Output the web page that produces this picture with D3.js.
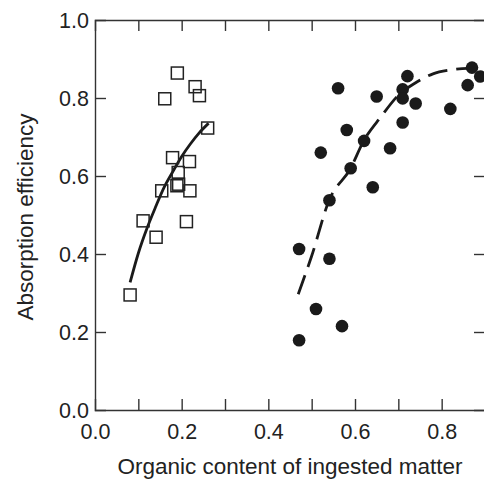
<!DOCTYPE html>
<html>
<head>
<meta charset="utf-8">
<script src="https://cdn.jsdelivr.net/npm/d3@7"></script>
<style>
  html, body { margin: 0; padding: 0; background: #fff; }
  svg { display: block; }
  text { font-family: "Liberation Sans", Arial, Helvetica, sans-serif; fill: #222; }
</style>
</head>
<body>
<svg id="chart" width="484" height="481"></svg>
<script>
// Open squares
const squareX = [0.190, 0.231, 0.161, 0.241, 0.260, 0.179, 0.218, 0.192, 0.189, 0.193, 0.154, 0.219, 0.111, 0.211, 0.141, 0.081];
const squareY = [0.864, 0.829, 0.798, 0.806, 0.723, 0.647, 0.637, 0.609, 0.575, 0.579, 0.562, 0.562, 0.485, 0.483, 0.443, 0.295];
// Filled circles
const circleX = [0.721, 0.870, 0.889, 0.860, 0.561, 0.710, 0.650, 0.710, 0.740, 0.820, 0.710, 0.581, 0.621, 0.521, 0.681, 0.590, 0.641, 0.541, 0.471, 0.541, 0.510, 0.570, 0.471];
const circleY = [0.856, 0.878, 0.855, 0.833, 0.825, 0.822, 0.804, 0.799, 0.786, 0.772, 0.737, 0.718, 0.690, 0.660, 0.671, 0.620, 0.571, 0.538, 0.413, 0.388, 0.259, 0.215, 0.179];
// Solid fitted curve (squares)
const solidCurveX = [0.081, 0.10, 0.12, 0.14, 0.16, 0.18, 0.20, 0.22, 0.24, 0.262];
const solidCurveY = [0.327, 0.402, 0.466, 0.521, 0.572, 0.612, 0.650, 0.682, 0.710, 0.735];
// Dashed fitted curve (circles)
const dashCurveX = [0.469, 0.50, 0.54, 0.59, 0.62, 0.66, 0.70, 0.74, 0.78, 0.82, 0.86, 0.90];
const dashCurveY = [0.297, 0.395, 0.537, 0.620, 0.690, 0.752, 0.807, 0.839, 0.862, 0.872, 0.876, 0.875];
// Ticks
const xTickValues = [0.0, 0.1, 0.2, 0.3, 0.4, 0.5, 0.6, 0.7, 0.8, 0.9];
const xTickLabels = ["0.0", "0.2", "0.4", "0.6", "0.8"];
const yTickValues = [0.0, 0.2, 0.4, 0.6, 0.8, 1.0];
const yTickLabels = ["0.0", "0.2", "0.4", "0.6", "0.8", "1.0"];
const xTitle = "Organic content of ingested matter";
const yTitle = "Absorption efficiency";

(function () {
const svg = d3.select("#chart");
const mLeft = 95, mRight = 485, mTop = 20, mBottom = 410;
const x = d3.scaleLinear().domain([0, 0.9]).range([mLeft, mRight]);
const y = d3.scaleLinear().domain([0, 1]).range([mBottom, mTop]);
const axisColor = "#333";
const tickLen = 11;

const labelSet = new Set(xTickLabels);
const fmt = d3.format(".1f");

const gB = svg.append("g").attr("transform", `translate(0,${mBottom})`)
  .call(d3.axisBottom(x).tickValues(xTickValues).tickSize(-tickLen).tickPadding(14)
    .tickFormat(d => labelSet.has(fmt(d)) ? fmt(d) : ""));
const gT = svg.append("g").attr("transform", `translate(0,${mTop})`)
  .call(d3.axisTop(x).tickValues(xTickValues).tickSize(-tickLen).tickFormat(""));
const gL = svg.append("g").attr("transform", `translate(${mLeft},0)`)
  .call(d3.axisLeft(y).tickValues(yTickValues).tickSize(-tickLen).tickPadding(6)
    .tickFormat((d, i) => yTickLabels[i]));
const gR = svg.append("g").attr("transform", `translate(${mRight},0)`)
  .call(d3.axisRight(y).tickValues(yTickValues).tickSize(-tickLen).tickFormat(""));

[gB, gT, gL, gR].forEach(g => {
  g.select(".domain").attr("stroke", axisColor).attr("stroke-width", 1.4);
  g.selectAll(".tick line").attr("stroke", axisColor).attr("stroke-width", 1.4);
  g.selectAll(".tick text").attr("fill", "#222").style("font-size", "21.5px")
    .style("font-family", "'Liberation Sans', Arial, sans-serif");
});
gB.selectAll(".tick").filter(d => d === 0 || d === 0.9).select("line").remove();
gT.selectAll(".tick").filter(d => d === 0 || d === 0.9).select("line").remove();
gL.selectAll(".tick").filter(d => d === 0 || d === 1).select("line").remove();
gR.selectAll(".tick").filter(d => d === 0 || d === 1).select("line").remove();
gL.selectAll(".tick text").attr("dy", "0.36em");

const line = d3.line().x(d => x(d[0])).y(d => y(d[1])).curve(d3.curveMonotoneX);
svg.append("path")
  .datum(solidCurveX.map((v, i) => [v, solidCurveY[i]]))
  .attr("d", line).attr("fill", "none").attr("stroke", "#1a1a1a").attr("stroke-width", 2.8);
svg.append("path")
  .datum(dashCurveX.map((v, i) => [v, dashCurveY[i]]))
  .attr("d", line).attr("fill", "none").attr("stroke", "#1a1a1a").attr("stroke-width", 2.8)
  .attr("stroke-dasharray", "20,9");

const sq = 12;
svg.append("g").selectAll("rect")
  .data(squareX.map((v, i) => [v, squareY[i]]))
  .join("rect")
  .attr("x", d => x(d[0]) - sq / 2).attr("y", d => y(d[1]) - sq / 2)
  .attr("width", sq).attr("height", sq)
  .attr("fill", "none").attr("stroke", "#222").attr("stroke-width", 1.5);

svg.append("g").selectAll("circle")
  .data(circleX.map((v, i) => [v, circleY[i]]))
  .join("circle")
  .attr("cx", d => x(d[0])).attr("cy", d => y(d[1])).attr("r", 6.3)
  .attr("fill", "#1a1a1a");

svg.append("text").attr("x", (mLeft + mRight) / 2).attr("y", 474)
  .attr("text-anchor", "middle").style("font-size", "22.5px").text(xTitle);
svg.append("text").attr("transform", `translate(33,${(mTop + mBottom) / 2 + 2}) rotate(-90)`)
  .attr("text-anchor", "middle").style("font-size", "22.5px").text(yTitle);
})();
</script>
</body>
</html>
